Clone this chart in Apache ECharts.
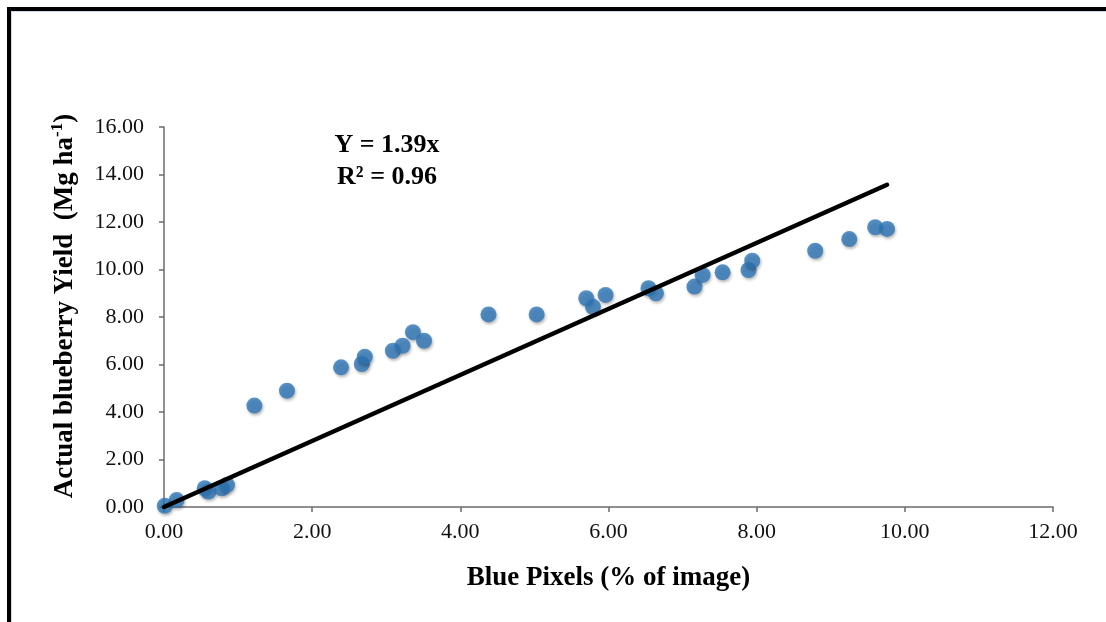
<!DOCTYPE html>
<html>
<head>
<meta charset="utf-8">
<script src="https://cdn.jsdelivr.net/npm/echarts@6/dist/echarts.min.js"></script>
<style>
html,body{margin:0;padding:0;background:#fff;}
#frame{position:absolute;left:7px;top:7px;width:1110px;height:620px;border-left:4px solid #000;border-top:4px solid #000;box-shadow:inset 1px 1px 0 #c8d8ee;}
#chart{position:absolute;left:0;top:0;width:1106px;height:622px;}
</style>
</head>
<body>
<div id="frame"></div>
<div id="chart"></div>
<script>
// Blue pixels (% of image)
const bluePixels = [0.01, 0.17, 0.55, 0.60, 0.78, 0.85, 1.22, 1.66, 2.39, 2.67, 2.71, 3.09, 3.22, 3.36, 3.51, 4.38, 5.03,
  5.70, 5.79, 5.96, 6.54, 6.64, 7.16, 7.27, 7.54, 7.89, 7.94, 8.79, 9.25, 9.60, 9.76];
// Actual blueberry yield (Mg ha-1)
const yieldValues = [0.05, 0.29, 0.79, 0.65, 0.79, 0.93, 4.27, 4.90, 5.88, 6.02, 6.33, 6.58, 6.79, 7.36, 7.00, 8.11, 8.11,
  8.79, 8.43, 8.93, 9.21, 9.00, 9.28, 9.77, 9.88, 9.98, 10.37, 10.79, 11.28, 11.78, 11.71];
const slope = 1.39;
const r2 = 0.96;
const xTicks = [0, 2, 4, 6, 8, 10, 12];
const yTicks = [0, 2, 4, 6, 8, 10, 12, 14, 16];

const points = bluePixels.map((x, i) => [x, yieldValues[i]]);
const xMax = Math.max(...bluePixels);
const trend = [[0, 0], [xMax, slope * xMax]];

const chart = echarts.init(document.getElementById('chart'), null, {renderer: 'canvas'});
const serif = '"Liberation Serif", "Times New Roman", serif';
chart.setOption({
  backgroundColor: 'transparent',
  animation: false,
  grid: {left: 164, right: 53, top: 127, bottom: 115},
  xAxis: {
    type: 'value', min: xTicks[0], max: xTicks[xTicks.length - 1], interval: 2,
    name: 'Blue Pixels (% of image)', nameLocation: 'middle', nameGap: 58,
    nameTextStyle: {fontFamily: serif, fontWeight: 'bold', fontSize: 27, color: '#000'},
    axisLine: {show: true, lineStyle: {color: '#6b6b6b', width: 1.5}},
    axisTick: {show: true, length: 5, inside: false, lineStyle: {color: '#6b6b6b', width: 1.5}},
    axisLabel: {fontFamily: serif, fontSize: 22, color: '#111', margin: 14, formatter: v => v.toFixed(2)},
    splitLine: {show: false}
  },
  yAxis: {
    type: 'value', min: yTicks[0], max: yTicks[yTicks.length - 1], interval: 2,
    axisLine: {show: true, lineStyle: {color: '#6b6b6b', width: 1.5}},
    axisTick: {show: true, length: 5, inside: false, lineStyle: {color: '#6b6b6b', width: 1.5}},
    axisLabel: {fontFamily: serif, fontSize: 22, color: '#111', margin: 20, formatter: v => v.toFixed(2)},
    splitLine: {show: false}
  },
  series: [
    {
      type: 'scatter', data: points, symbol: 'circle', symbolSize: 16, z: 2,
      itemStyle: {color: '#2E75B6', shadowColor: 'rgba(0,0,0,0.35)', shadowBlur: 3, shadowOffsetX: 1, shadowOffsetY: 2}
    },
    {
      type: 'line', data: trend, showSymbol: false, symbol: 'none', z: 3,
      lineStyle: {color: '#000', width: 4.5, cap: 'round'}
    }
  ],
  graphic: [
    {
      type: 'text', x: 64, y: 306, rotation: Math.PI / 2, z: 10,
      style: {
        text: '{a|Actual blueberry Yield  (Mg ha}{s|-1}{a|)}',
        align: 'center', verticalAlign: 'middle',
        rich: {
          a: {fontFamily: serif, fontWeight: 'bold', fontSize: 27, fill: '#000', lineHeight: 30, verticalAlign: 'bottom'},
          s: {fontFamily: serif, fontWeight: 'bold', fontSize: 17, fill: '#000', lineHeight: 30, verticalAlign: 'top', padding: [0, 0, 10, 0]}
        }
      }
    },
    {
      type: 'text', x: 387, y: 145, z: 10,
      style: {text: 'Y = ' + slope.toFixed(2) + 'x', fontFamily: serif, fontWeight: 'bold', fontSize: 26, fill: '#000', align: 'center', verticalAlign: 'middle'}
    },
    {
      type: 'text', x: 387, y: 177, z: 10,
      style: {text: 'R\u00B2 = ' + r2.toFixed(2), fontFamily: serif, fontWeight: 'bold', fontSize: 26, fill: '#000', align: 'center', verticalAlign: 'middle'}
    }
  ]
});
</script>
</body>
</html>
